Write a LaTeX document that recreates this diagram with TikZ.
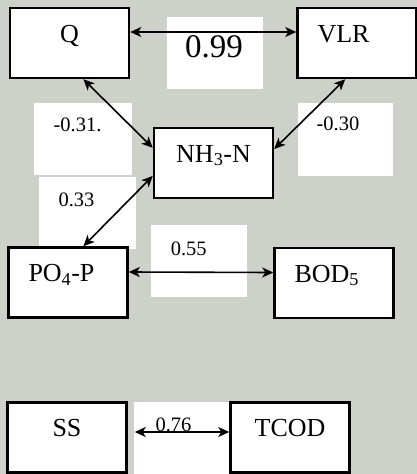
\documentclass[tikz,border=0pt]{standalone}
\usepackage{fontspec}
\setmainfont{Liberation Serif}
\usetikzlibrary{arrows.meta}
\definecolor{photogrey}{RGB}{206,209,201}

\begin{document}
\begin{tikzpicture}[x=1pt,y=-1pt,line cap=round,line join=round,>={Stealth[length=11pt,width=10pt,inset=3pt]},
  var/.style={draw,line width=2.5pt,line cap=butt,line join=miter,fill=white,inner sep=0pt,
    minimum width=119pt,text height=34pt,text depth=36pt,font=\fontsize{26}{31}\selectfont},
  leftvar/.style={var,text width=79pt,align=left},
  coef/.style={anchor=base,inner sep=0pt,font=\fontsize{20.5}{24}\selectfont},
  link/.style={<->,line width=1.6pt}]
  \useasboundingbox (0,0) rectangle (417,474);
  \fill[photogrey] (0,0) rectangle (417,474);
  % white patches behind the coefficients
  \foreach \xa/\ya/\xb/\yb in {167/17/263/89,34/103/132/175,298/103/393/176,39/177/136/249,151/225/247/297,134/402/232/474}
    \fill[white] (\xa,\ya) rectangle (\xb,\yb);
  % variables
  \node[var] (Q) at (69.5,43) {Q};
  \node[leftvar] (VLR) at (357,43) {VLR};
  \node[var] (NH) at (213.5,163) {NH\textsubscript{3}-N};
  \node[leftvar] (PO) at (68,282.5) {PO\textsubscript{4}-P};
  \node[leftvar] (BOD) at (334,283) {BOD\textsubscript{5}};
  \node[var] (SS) at (67,437.5) {SS};
  \node[var] (TCOD) at (290,437.5) {TCOD};
  % correlation coefficients
  \node[coef,font=\fontsize{33}{38}\selectfont] (r099) at (214,57.7) {0.99};
  \node[coef] (r031) at (77.5,131.7) {-0.31.};
  \node[coef] (r030) at (338,130) {-0.30};
  \node[coef] (r033) at (76.5,206.7) {0.33};
  \node[coef] (r055) at (188.7,255) {0.55};
  \node[coef] (r076) at (173.5,431) {0.76};
  % links
  \draw[link] ([yshift=11pt]Q.east) -- ([yshift=11pt]VLR.west);
  \draw[link] (Q.-69.4) -- (NH.166.3);
  \draw[link] (VLR.-108.4) -- (NH.13.3);
  \draw[link] (NH.192.8) -- (PO.67.3);
  \draw[link] ([yshift=10.5pt]PO.east) -- ([yshift=10.5pt]BOD.west);
  \draw[link,shorten <=7pt] ([yshift=5.5pt]SS.east) -- ([yshift=5.5pt]TCOD.west);
\end{tikzpicture}
\end{document}
